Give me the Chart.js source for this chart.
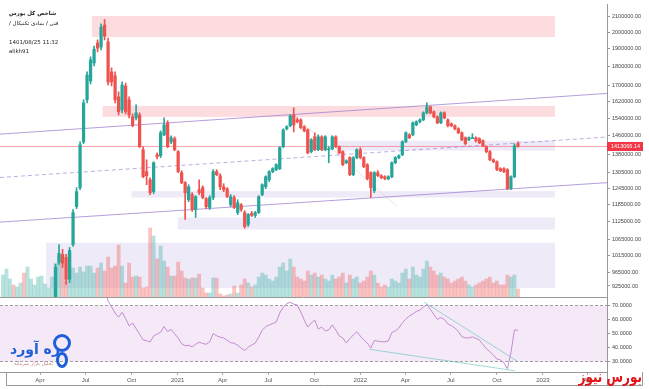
<!DOCTYPE html>
<html>
<head>
<meta charset="utf-8">
<script src="https://cdn.jsdelivr.net/npm/chart.js@4.4.0/dist/chart.umd.min.js"></script>
<style>
  body { margin: 0; background: #fff; }
  #wrap { position: relative; width: 649px; height: 389px; overflow: hidden; }
  #main { position: absolute; left: 0; top: 0; }
  #rsiChart { position: absolute; left: 0; top: 297px; }
  .hdr { position: absolute; left: 9px; font-family: "DejaVu Sans", sans-serif; font-size: 5.5px; color: #222; white-space: nowrap; }
  #logo { position: absolute; left: 10px; top: 341px; font-family: "DejaVu Sans", sans-serif; font-weight: bold; font-size: 14px; color: #1f5fd8; direction: rtl; }
  #logoSub { position: absolute; left: 14px; top: 360px; font-family: "DejaVu Sans", sans-serif; font-size: 5px; color: #c98a8a; direction: rtl; }
  #pin { position: absolute; left: 53px; top: 334px; width: 12px; height: 12px; border: 3px solid #1f5fd8; border-radius: 50%; }
  #pin2 { position: absolute; left: 56px; top: 352px; width: 6px; height: 10px; border: 3px solid #1f5fd8; border-radius: 50%; }
  #mark { position: absolute; right: 7px; top: 368px; font-family: "DejaVu Sans", sans-serif; font-weight: bold; font-size: 12px; color: #e3141c; direction: rtl; transform: scaleY(1.3); transform-origin: top right; }
</style>
</head>
<body>
<div id="wrap">
  <canvas id="main" width="649" height="297"></canvas>
  <canvas id="rsiChart" width="649" height="92"></canvas>
  <div class="hdr" style="top:10px; font-weight:bold" dir="rtl">شاخص کل بورس</div>
  <div class="hdr" style="top:20px" dir="rtl">فنی / بنیادی تکنیکال /</div>
  <div class="hdr" style="top:39px">1401/08/25 11:32</div>
  <div class="hdr" style="top:48px">alikh91</div>
  <div id="pin"></div>
  <div id="pin2"></div>
  <div id="logo">ره آورد</div>
  <div id="logoSub">تحلیل بازار سرمایه</div>
  <div id="mark">بورس نیوز</div>
</div>
<script>
// weekly candles of the index, first candle week starts 2020-01-18
// prices in thousands of points
var firstCandle = "2020-01-18";
var viewStart = "2020-01-12";
var viewEnd = "2023-05-09";

var openK = [380,388,415,445,438,475,495,488,515,540,548,595,655,725,795,
  870,994,1018,1009,944,1049,1177,1247,1433,1628,1724,1821,1935,1911,2043,
  1941,1772,1751,1643,1579,1698,1628,1546,1541,1555,1399,1309,1277,1232,1378,
  1374,1464,1518,1433,1447,1391,1305,1266,1202,1221,1167,1239,1247,1206,1174,
  1210,1309,1293,1250,1243,1184,1210,1156,1184,1156,1115,1153,1146,1156,1221,
  1250,1277,1309,1317,1321,1412,1491,1505,1555,1532,1532,1500,1486,1391,1455,
  1399,1455,1399,1399,1403,1455,1412,1391,1345,1366,1297,1366,1399,1366,1337,
  1305,1235,1305,1293,1289,1281,1289,1345,1366,1378,1433,1464,1464,1509,1523,
  1532,1565,1594,1570,1546,1518,1565,1532,1514,1505,1491,1473,1451,1442,1447,
  1451,1447,1438,1412,1391,1357,1349,1321,1321,1317,1243,1289,1425];
var highK = [392,420,450,470,480,500,510,520,545,560,600,660,730,800,880,
  988,1049,1034,1018,1040,1167,1247,1433,1628,1772,1855,1917,1953,2050,2078,
  1964,1794,1772,1668,1719,1713,1643,1560,1603,1565,1412,1357,1285,1349,1386,
  1482,1541,1528,1460,1455,1395,1313,1270,1258,1228,1217,1277,1254,1210,1217,
  1317,1317,1301,1262,1247,1221,1217,1202,1188,1163,1153,1160,1160,1217,1262,
  1293,1313,1325,1341,1412,1491,1505,1555,1589,1541,1537,1505,1491,1447,1473,
  1464,1460,1460,1412,1460,1460,1416,1395,1357,1370,1370,1403,1408,1370,1341,
  1309,1309,1313,1297,1293,1293,1349,1370,1378,1438,1477,1469,1523,1528,1537,
  1570,1613,1598,1574,1551,1570,1570,1537,1518,1509,1496,1477,1455,1455,1469,
  1455,1451,1442,1416,1395,1361,1353,1325,1325,1321,1293,1425,1433];
var lowK = [372,385,410,430,435,468,480,485,510,525,545,590,650,720,790,
  865,988,979,930,935,1043,1170,1239,1425,1613,1708,1805,1883,1894,1953,
  1703,1698,1613,1555,1565,1560,1541,1500,1532,1408,1285,1258,1221,1224,1361,
  1366,1460,1408,1425,1395,1305,1262,1132,1195,1160,1139,1221,1206,1170,1167,
  1202,1293,1239,1232,1210,1177,1170,1149,1160,1102,1108,1142,1139,1153,1217,
  1243,1270,1305,1313,1317,1408,1486,1500,1477,1518,1491,1477,1382,1386,1395,
  1395,1395,1395,1345,1399,1408,1382,1333,1341,1293,1293,1361,1361,1325,1277,
  1210,1228,1289,1281,1277,1277,1285,1341,1361,1374,1429,1447,1460,1505,1518,
  1528,1560,1560,1541,1514,1514,1537,1500,1500,1486,1469,1438,1420,1438,1447,
  1433,1425,1412,1386,1353,1345,1313,1309,1305,1239,1239,1285,1410];
var closeK = [388,415,445,438,475,495,488,515,540,548,595,655,725,795,870,
  979,1021,991,944,1030,1156,1232,1420,1613,1756,1838,1899,1905,2031,1976,
  1719,1719,1628,1570,1703,1570,1555,1505,1565,1412,1289,1293,1228,1345,1370,
  1473,1509,1412,1451,1399,1309,1266,1228,1250,1167,1213,1228,1210,1177,1210,
  1309,1297,1250,1239,1213,1213,1174,1191,1167,1108,1149,1146,1156,1213,1258,
  1289,1309,1321,1337,1408,1486,1500,1551,1509,1523,1496,1482,1386,1442,1399,
  1455,1399,1455,1403,1455,1412,1386,1337,1353,1297,1366,1399,1366,1329,1281,
  1247,1305,1293,1285,1281,1289,1345,1366,1374,1433,1473,1451,1518,1523,1532,
  1565,1594,1565,1546,1518,1565,1541,1505,1505,1491,1473,1442,1425,1451,1451,
  1438,1429,1416,1391,1357,1349,1317,1313,1309,1243,1289,1416,1413.06614];
// volume, arbitrary units
var volume = [22,28,18,12,10,14,24,30,18,12,20,21,13,9,20,
  34,41,33,16,44,29,24,30,25,31,31,24,29,34,26,
  40,29,31,52,31,14,34,20,21,20,9,10,69,61,38,
  51,36,30,21,21,35,26,19,18,19,19,23,9,4,4,
  19,19,3,1,2,3,11,4,12,18,14,10,12,20,24,
  22,18,16,20,30,34,26,38,30,20,18,16,26,22,24,
  20,22,18,16,22,18,20,24,14,22,18,20,14,16,20,
  26,22,14,10,12,10,18,16,14,24,28,18,30,22,20,
  28,36,30,26,22,24,20,18,14,16,18,20,16,12,10,
  12,14,16,18,20,14,16,12,12,22,20,22,8];
// RSI(14)
var rsi = [78,80,82,79,82,84,83,85,86,85,87,89,90,91,92,
  92,92,91,88,90,91,92,93,94,94,95,94,95,90,83,
  73.1,69.1,64.6,61.7,65.1,60.7,55.4,57.5,53.5,49.5,45.4,44.9,43.9,48.2,49.6,
  50.9,55,51.4,52.9,49.8,46.7,42.7,41.3,41.6,40.5,42.3,43.8,42.9,42.3,44,
  49.9,48.4,47.4,46.8,45.1,43.4,43.1,41.6,39.5,37.9,40.2,41.8,43.2,47.4,52.4,
  54.8,56.1,57.1,58.2,64.6,68.7,71.4,72.2,71,70.4,65.4,59.6,54.6,57.5,59.6,
  53.2,54.6,51.8,52.5,56.1,52.5,48.2,46.8,43.2,46.4,48.9,51.3,48.2,45.4,43.2,
  39.6,45,44.6,44.1,44.1,44.6,50.7,51.8,53.9,57.5,60.4,62.5,63.9,65.8,66.6,
  68.9,70.7,67.3,63.6,60.1,61.4,60,56.8,55.7,53.9,51.4,47.7,46.9,46.8,47.6,
  46.5,45.4,42.1,39.1,37,34.6,31.8,31.1,29.1,24.9,36.3,52.5,52.3];

var priceTicks = [2100000,2000000,1900000,1800000,1700000,1620000,1540000,1460000,
  1380000,1305000,1245000,1185000,1125000,1065000,1015000,965000,925000];
var rsiTicks = [70,60,50,40,30];
var timeTicks = ["2020-04-01","2020-07-01","2020-10-01","2021-01-01","2021-04-01","2021-07-01",
  "2021-10-01","2022-01-01","2022-04-01","2022-07-01","2022-10-01","2023-01-01","2023-04-01"];
var timeLabels = ["Apr","Jul","Oct","2021","Apr","Jul","Oct","2022","Apr","Jul","Oct","2023","Apr"];

// drawn zones (supply = red, demand = purple)
var zoneStart = ["2020-07-14","2020-08-04","2020-10-01","2021-01-01","2021-11-13","2020-04-13"];
var zoneEnd = ["2023-01-25","2023-01-25","2023-01-25","2023-01-25","2023-01-25","2023-01-25"];
var zoneTop = [2100000,1598000,1234000,1139000,1438000,1055000];
var zoneBottom = [1970000,1546000,1210000,1098000,1395000,919000];
var zoneKind = ["supply","supply","demand","demand","demand","demand"];

// trend lines: [start price, end price] over the whole view
var channelUpper = [1467000, 1660000];
var channelLower = [1123000, 1266000];
var channelMid = [1286000, 1454000];
var fadedLine = [["2021-08-19", 1560000], ["2022-03-15", 1178000]];
var rsiLineHigh = [["2022-05-08", 72.5], ["2022-11-12", 29.9]];
var rsiLineLow = [["2022-01-19", 38.7], ["2022-11-06", 23.4]];

function dayOf(s) { return (Date.parse(s) - Date.parse(firstCandle)) / 864e5; }
var xs = openK.map(function (v, i) { return i * 7; });
var up = closeK.map(function (c, i) { return c >= openK[i]; });
var lastClose = closeK[closeK.length - 1] * 1000;
var teal = "#26a69a", red = "#ef5350";
var axisFont = { family: "Liberation Sans", size: 5.5 };

var zonesPlugin = {
  id: "zones",
  beforeDatasetsDraw: function (chart) {
    var ctx = chart.ctx, x = chart.scales.x, y = chart.scales.y;
    ctx.save();
    for (var i = 0; i < zoneStart.length; i++) {
      var x1 = x.getPixelForValue(dayOf(zoneStart[i]));
      var x2 = x.getPixelForValue(dayOf(zoneEnd[i]));
      var y1 = y.getPixelForValue(zoneTop[i]);
      var y2 = y.getPixelForValue(zoneBottom[i]);
      ctx.fillStyle = zoneKind[i] == "supply" ? "rgba(247,82,95,0.2)" : "rgba(149,117,205,0.15)";
      ctx.fillRect(x1, y1, x2 - x1, y2 - y1);
    }
    ctx.restore();
  }
};

var lastPricePlugin = {
  id: "lastPrice",
  afterDraw: function (chart) {
    var ctx = chart.ctx, a = chart.chartArea;
    var y = chart.scales.y.getPixelForValue(lastClose);
    ctx.save();
    ctx.fillStyle = "#f23645";
    ctx.fillRect(a.right, y - 4.5, 36, 9);
    ctx.fillStyle = "#fff";
    ctx.font = "5.5px 'Liberation Sans'";
    ctx.textBaseline = "middle";
    ctx.fillText(lastClose.toFixed(2), a.right + 4, y + 0.5);
    ctx.restore();
  }
};

function lineSet(points, color, dash) {
  return {
    type: "line", yAxisID: "y", order: 3,
    data: points, borderColor: color, borderWidth: 1, borderDash: dash || [],
    pointRadius: 0, tension: 0
  };
}

new Chart(document.getElementById("main"), {
  type: "bar",
  data: {
    datasets: [
      {
        data: xs.map(function (x, i) { return { x: x, y: [lowK[i] * 1000, highK[i] * 1000] }; }),
        backgroundColor: up.map(function (u) { return u ? teal : red; }),
        barThickness: 1, grouped: false, order: 2, yAxisID: "y"
      },
      {
        data: xs.map(function (x, i) { return { x: x, y: [openK[i] * 1000, closeK[i] * 1000] }; }),
        backgroundColor: up.map(function (u) { return u ? teal : red; }),
        barThickness: 2.6, minBarLength: 1, grouped: false, order: 1, yAxisID: "y"
      },
      {
        data: xs.map(function (x, i) { return { x: x, y: volume[i] }; }),
        backgroundColor: up.map(function (u) { return u ? "rgba(38,166,154,0.33)" : "rgba(239,83,80,0.35)"; }),
        barThickness: 3.2, grouped: false, order: 5, yAxisID: "vol"
      },
      lineSet([{ x: dayOf(viewStart), y: channelUpper[0] }, { x: dayOf(viewEnd), y: channelUpper[1] }], "rgba(149,117,205,0.7)"),
      lineSet([{ x: dayOf(viewStart), y: channelLower[0] }, { x: dayOf(viewEnd), y: channelLower[1] }], "rgba(149,117,205,0.7)"),
      lineSet([{ x: dayOf(viewStart), y: channelMid[0] }, { x: dayOf(viewEnd), y: channelMid[1] }], "rgba(149,117,205,0.6)", [4, 3]),
      lineSet(fadedLine.map(function (p) { return { x: dayOf(p[0]), y: p[1] }; }), "rgba(200,190,200,0.45)"),
      lineSet([{ x: dayOf(viewStart), y: lastClose }, { x: dayOf(viewEnd), y: lastClose }], "rgba(242,54,69,0.45)")
    ]
  },
  options: {
    responsive: false, animation: false, events: [],
    layout: { padding: { top: 4, left: 0, right: 0, bottom: 0 } },
    plugins: { legend: { display: false }, tooltip: { enabled: false } },
    scales: {
      x: { type: "linear", min: dayOf(viewStart), max: dayOf(viewEnd), display: false, offset: false },
      y: {
        type: "logarithmic", position: "right", min: 894600, max: 2178000,
        afterBuildTicks: function (s) { s.ticks = priceTicks.map(function (v) { return { value: v }; }); },
        afterFit: function (s) { s.width = 42; s.paddingTop = 0; s.paddingBottom = 0; },
        ticks: { callback: function (v) { return Number(v).toFixed(2); }, font: axisFont, color: "#444", padding: 2, autoSkip: false },
        grid: { drawOnChartArea: false, tickLength: 3, color: "#999" },
        border: { display: true, color: "#999" }
      },
      vol: { type: "linear", display: false, min: 0, max: 293 }
    }
  },
  plugins: [zonesPlugin, lastPricePlugin]
});

var rsiBandPlugin = {
  id: "rsiBand",
  beforeDatasetsDraw: function (chart) {
    var ctx = chart.ctx, a = chart.chartArea, y = chart.scales.y;
    var y70 = y.getPixelForValue(70), y30 = y.getPixelForValue(30);
    ctx.save();
    ctx.fillStyle = "rgba(156,39,176,0.1)";
    ctx.fillRect(a.left, y70, a.right - a.left, y30 - y70);
    ctx.strokeStyle = "#a0a0a0";
    ctx.setLineDash([3, 2]);
    ctx.lineWidth = 1;
    [y70, y30].forEach(function (p) {
      ctx.beginPath(); ctx.moveTo(a.left, Math.round(p) + 0.5); ctx.lineTo(a.right, Math.round(p) + 0.5); ctx.stroke();
    });
    ctx.restore();
  },
  afterDraw: function (chart) {
    var ctx = chart.ctx, a = chart.chartArea;
    ctx.save();
    ctx.strokeStyle = "#999";
    ctx.lineWidth = 1;
    ctx.beginPath();
    ctx.moveTo(0, 0.5); ctx.lineTo(a.right, 0.5);
    ctx.moveTo(6.5, a.bottom); ctx.lineTo(6.5, 88.5);
    ctx.lineTo(642.5, 88.5); ctx.lineTo(642.5, a.bottom);
    ctx.moveTo(a.right + 0.5, a.bottom); ctx.lineTo(a.right + 0.5, 88.5);
    ctx.stroke();
    ctx.restore();
  }
};

new Chart(document.getElementById("rsiChart"), {
  type: "line",
  data: {
    datasets: [
      { data: xs.map(function (x, i) { return { x: x, y: rsi[i] }; }), borderColor: "#c38ad0", borderWidth: 1, pointRadius: 0, tension: 0 },
      { data: rsiLineHigh.map(function (p) { return { x: dayOf(p[0]), y: p[1] }; }), borderColor: "rgba(80,185,185,0.55)", borderWidth: 1, pointRadius: 0 },
      { data: rsiLineLow.map(function (p) { return { x: dayOf(p[0]), y: p[1] }; }), borderColor: "rgba(80,185,185,0.55)", borderWidth: 1, pointRadius: 0 }
    ]
  },
  options: {
    responsive: false, animation: false, events: [],
    layout: { padding: 0 },
    plugins: { legend: { display: false }, tooltip: { enabled: false } },
    scales: {
      x: {
        type: "linear", min: dayOf(viewStart), max: dayOf(viewEnd),
        afterBuildTicks: function (s) { s.ticks = timeTicks.map(function (d) { return { value: dayOf(d) }; }); },
        afterFit: function (s) { s.height = 17; s.paddingLeft = 0; s.paddingRight = 0; },
        ticks: { callback: function (v, i) { return timeLabels[i]; }, autoSkip: false, maxRotation: 0, font: { family: "Liberation Sans", size: 6 }, color: "#555", padding: 2 },
        grid: { drawOnChartArea: false, tickLength: 3, color: "#aaa" },
        border: { display: true, color: "#999" }
      },
      y: {
        type: "linear", position: "right", min: 22.5, max: 76.07,
        afterBuildTicks: function (s) { s.ticks = rsiTicks.map(function (v) { return { value: v }; }); },
        afterFit: function (s) { s.width = 42; s.paddingTop = 0; s.paddingBottom = 0; },
        ticks: { callback: function (v) { return Number(v).toFixed(4); }, font: axisFont, color: "#444", padding: 2, autoSkip: false },
        grid: { drawOnChartArea: false, tickLength: 3, color: "#999" },
        border: { display: true, color: "#999" }
      }
    }
  },
  plugins: [rsiBandPlugin]
});
</script>
</body>
</html>
